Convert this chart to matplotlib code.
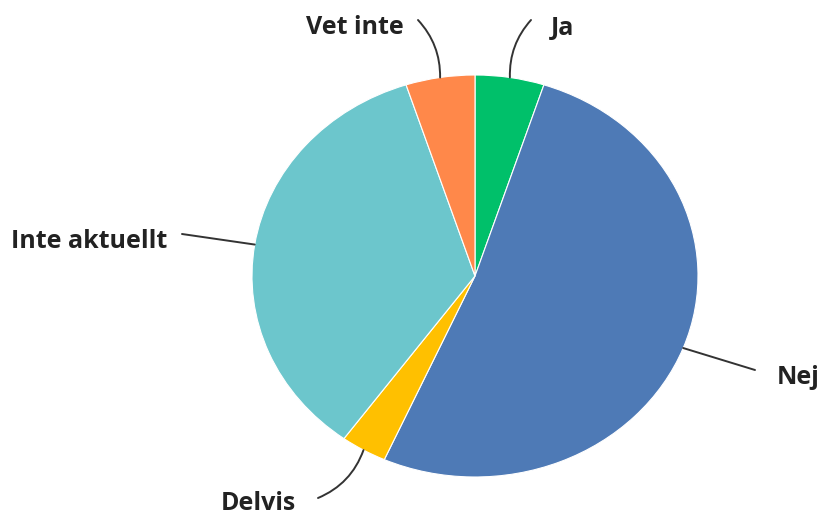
import matplotlib.pyplot as plt
import numpy as np

# answers (approx. share of respondents)
labels = ["Ja", "Nej", "Delvis", "Inte aktuellt", "Vet inte"]
values = [3, 31, 2, 21, 3]
colors = ["#00C06A", "#4E7AB6", "#FFC000", "#6CC6CC", "#FF884A"]

# label text positions in pixels (x, y from top) and alignment
text_pos = [(551, 28), (777, 378), (221, 503), (11, 241), (404, 27)]
text_ha = ["left", "left", "left", "left", "right"]
# where each leader line leaves the label (pixels)
line_start = [(531, 20), (755, 370), (318, 498), (182, 234), (418, 20)]
rads = [0.2, 0.0, 0.22, 0.0, -0.2]

W, H = 822, 518
cx, cy, rx, ry = 475, 276, 223, 201

fig = plt.figure(figsize=(W / 100, H / 100), dpi=100)
ax = fig.add_axes([0, 0, 1, 1])

wedges, _ = ax.pie(values, colors=colors, startangle=90, counterclock=False,
                   wedgeprops=dict(edgecolor="white", linewidth=0.8))

# stretch the pie into the ellipse seen in the picture
ax.set_aspect("auto")
ax.set_xlim(-cx / rx, (W - cx) / rx)
ax.set_ylim(-(H - cy) / ry, cy / ry)


def to_data(px, py):
    return (px - cx) / rx, (cy - py) / ry


for i, w in enumerate(wedges):
    mid = np.deg2rad((w.theta1 + w.theta2) / 2)
    edge = (np.cos(mid), np.sin(mid))
    tx, ty = to_data(*text_pos[i])
    ax.text(tx, ty, labels[i], ha=text_ha[i], va="center", fontsize=18,
            fontweight="bold", family="Open Sans", color="#222222")
    ax.annotate("", xy=edge, xytext=to_data(*line_start[i]),
                arrowprops=dict(arrowstyle="-", color="#333333", lw=1.4,
                                shrinkA=0, shrinkB=0,
                                connectionstyle="arc3,rad=%s" % rads[i]))

ax.axis("off")
fig.savefig("out.png", dpi=100)
